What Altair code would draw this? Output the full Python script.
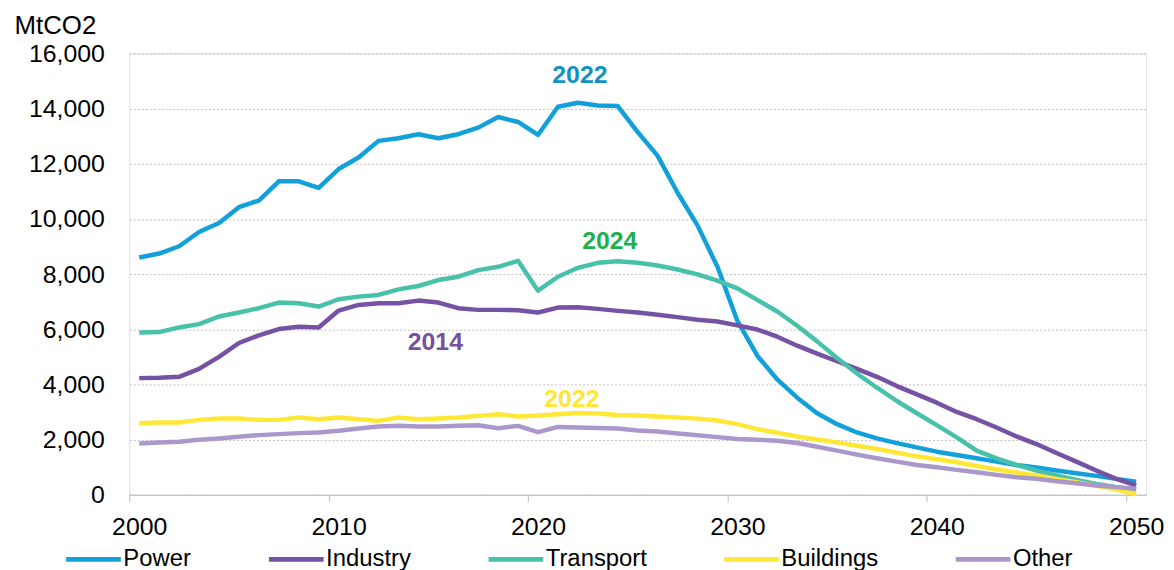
import altair as alt
import pandas as pd

years = list(range(2000, 2051))
series_names = ["Power", "Industry", "Transport", "Buildings", "Other"]
series_colors = ["#12A0DB", "#7552A3", "#48C1AA", "#FFE835", "#AA97CB"]

power = [8600, 8745, 9009, 9525, 9850, 10426, 10667, 11363, 11363, 11124,
         11809, 12228, 12829, 12925, 13070, 12925, 13070, 13310, 13694, 13514,
         13045, 14066, 14210, 14114, 14090, 13150, 12288, 10950, 9766, 8264,
         6300, 5040, 4180, 3520, 2955, 2559, 2258, 2042, 1874, 1718,
         1562, 1441, 1321, 1201, 1081, 985, 877, 781, 685, 577, 470]
industry = [4228, 4240, 4276, 4565, 4997, 5502, 5778, 6006, 6090, 6066,
            6679, 6883, 6943, 6943, 7039, 6967, 6763, 6703, 6703, 6691,
            6607, 6787, 6799, 6739, 6667, 6607, 6523, 6439, 6342, 6282,
            6140, 5990, 5730, 5405, 5117, 4841, 4565, 4276, 3940, 3640,
            3339, 3003, 2739, 2438, 2114, 1838, 1514, 1201, 877, 577, 340]
transport = [5886, 5898, 6066, 6186, 6462, 6607, 6763, 6967, 6943, 6823,
             7087, 7183, 7243, 7447, 7568, 7784, 7904, 8144, 8264, 8480,
             7399, 7904, 8228, 8408, 8468, 8408, 8312, 8168, 7988, 7760,
             7483, 7063, 6642, 6126, 5561, 4961, 4396, 3880, 3399, 2955,
             2523, 2078, 1598, 1321, 1081, 877, 697, 541, 396, 276, 192]
buildings = [2595, 2619, 2619, 2715, 2763, 2763, 2715, 2715, 2799, 2739,
             2799, 2739, 2679, 2799, 2739, 2763, 2799, 2859, 2919, 2840,
             2871, 2919, 2967, 2943, 2895, 2870, 2840, 2800, 2760, 2690,
             2559, 2378, 2246, 2114, 2006, 1898, 1778, 1658, 1526, 1393,
             1285, 1177, 1045, 913, 805, 697, 577, 456, 324, 192, 20]
other = [1862, 1898, 1922, 1994, 2042, 2102, 2162, 2198, 2234, 2258,
         2318, 2402, 2474, 2498, 2474, 2474, 2498, 2523, 2414, 2498,
         2270, 2460, 2440, 2420, 2400, 2330, 2290, 2220, 2160, 2090,
         2018, 1994, 1958, 1874, 1742, 1598, 1453, 1321, 1201, 1081,
         997, 901, 817, 721, 637, 577, 493, 420, 336, 276, 216]

ann_text = ["2022", "2024", "2014", "2022"]
ann_year = [2022.1, 2023.6, 2014.85, 2021.7]
ann_value = [15225, 9190, 5550, 3460]
ann_color = ["#1391C2", "#21AF4D", "#7451A0", "#FFE634"]

y_ticks = list(range(0, 16001, 2000))
x_ticks = [2000, 2010, 2020, 2030, 2040, 2050]

FONT = "Liberation Sans"

rows = []
for name, vals in zip(series_names, [power, industry, transport, buildings, other]):
    for yr, v in zip(years, vals):
        rows.append({"year": yr, "value": v, "series": name})
df = pd.DataFrame(rows)

ann_df = pd.DataFrame({"text": ann_text, "year": ann_year, "value": ann_value, "color": ann_color})

half = 1023 / 51 / 2

x_scale = alt.Scale(domain=[1999.5, 2050.5], nice=False, zero=False)
y_scale = alt.Scale(domain=[0, 16000], nice=False)

lines = alt.Chart(df).mark_line(strokeWidth=4.5, strokeJoin="round", strokeCap="butt").encode(
    x=alt.X("year:Q", scale=x_scale,
            axis=alt.Axis(values=x_ticks, format="d", grid=False, domainColor="#BFBFBF",
                          tickColor="#BFBFBF", tickSize=7, tickOffset=-half, labelOffset=half,
                          labelFlush=False, labelFontSize=25, labelFont=FONT, labelColor="#000000",
                          labelPadding=13, title=None)),
    y=alt.Y("value:Q", scale=y_scale,
            axis=alt.Axis(values=y_ticks, format=",d", grid=True, gridDash=[2, 2], gridColor="#BFBFBF",
                          domain=False, ticks=False, labelFontSize=25, labelFont=FONT,
                          labelColor="#000000", labelPadding=25,
                          title="MtCO2", titleAngle=0, titleX=-116, titleY=-20, titleAlign="left",
                          titleBaseline="alphabetic", titleFontSize=26, titleFontWeight="normal",
                          titleFont=FONT, titleColor="#000000")),
    color=alt.Color("series:N", sort=series_names,
                    scale=alt.Scale(domain=series_names, range=series_colors),
                    legend=alt.Legend(orient="none", legendX=-66, legendY=479, direction="horizontal",
                                      symbolType="stroke", symbolSize=3025, symbolStrokeWidth=5,
                                      labelFontSize=24, labelFont=FONT, labelColor="#000000",
                                      columnPadding=67, labelOffset=0, title=None, padding=0)),
    order=alt.Order("year:Q"),
)

texts = alt.Chart(ann_df).mark_text(fontSize=25, fontWeight="bold", font=FONT).encode(
    x=alt.X("year:Q", scale=x_scale),
    y=alt.Y("value:Q", scale=y_scale),
    text="text:N",
    color=alt.Color("color:N", scale=None),
)

chart = alt.layer(lines, texts).properties(
    width=1023, height=444,
    padding={"left": 122, "top": 44, "right": 20, "bottom": 74},
    autosize=alt.AutoSizeParams(type="none"),
).configure_view(stroke=None).configure(background="white")

chart.save("out.html", embed_options={"renderer": "svg", "actions": False})
